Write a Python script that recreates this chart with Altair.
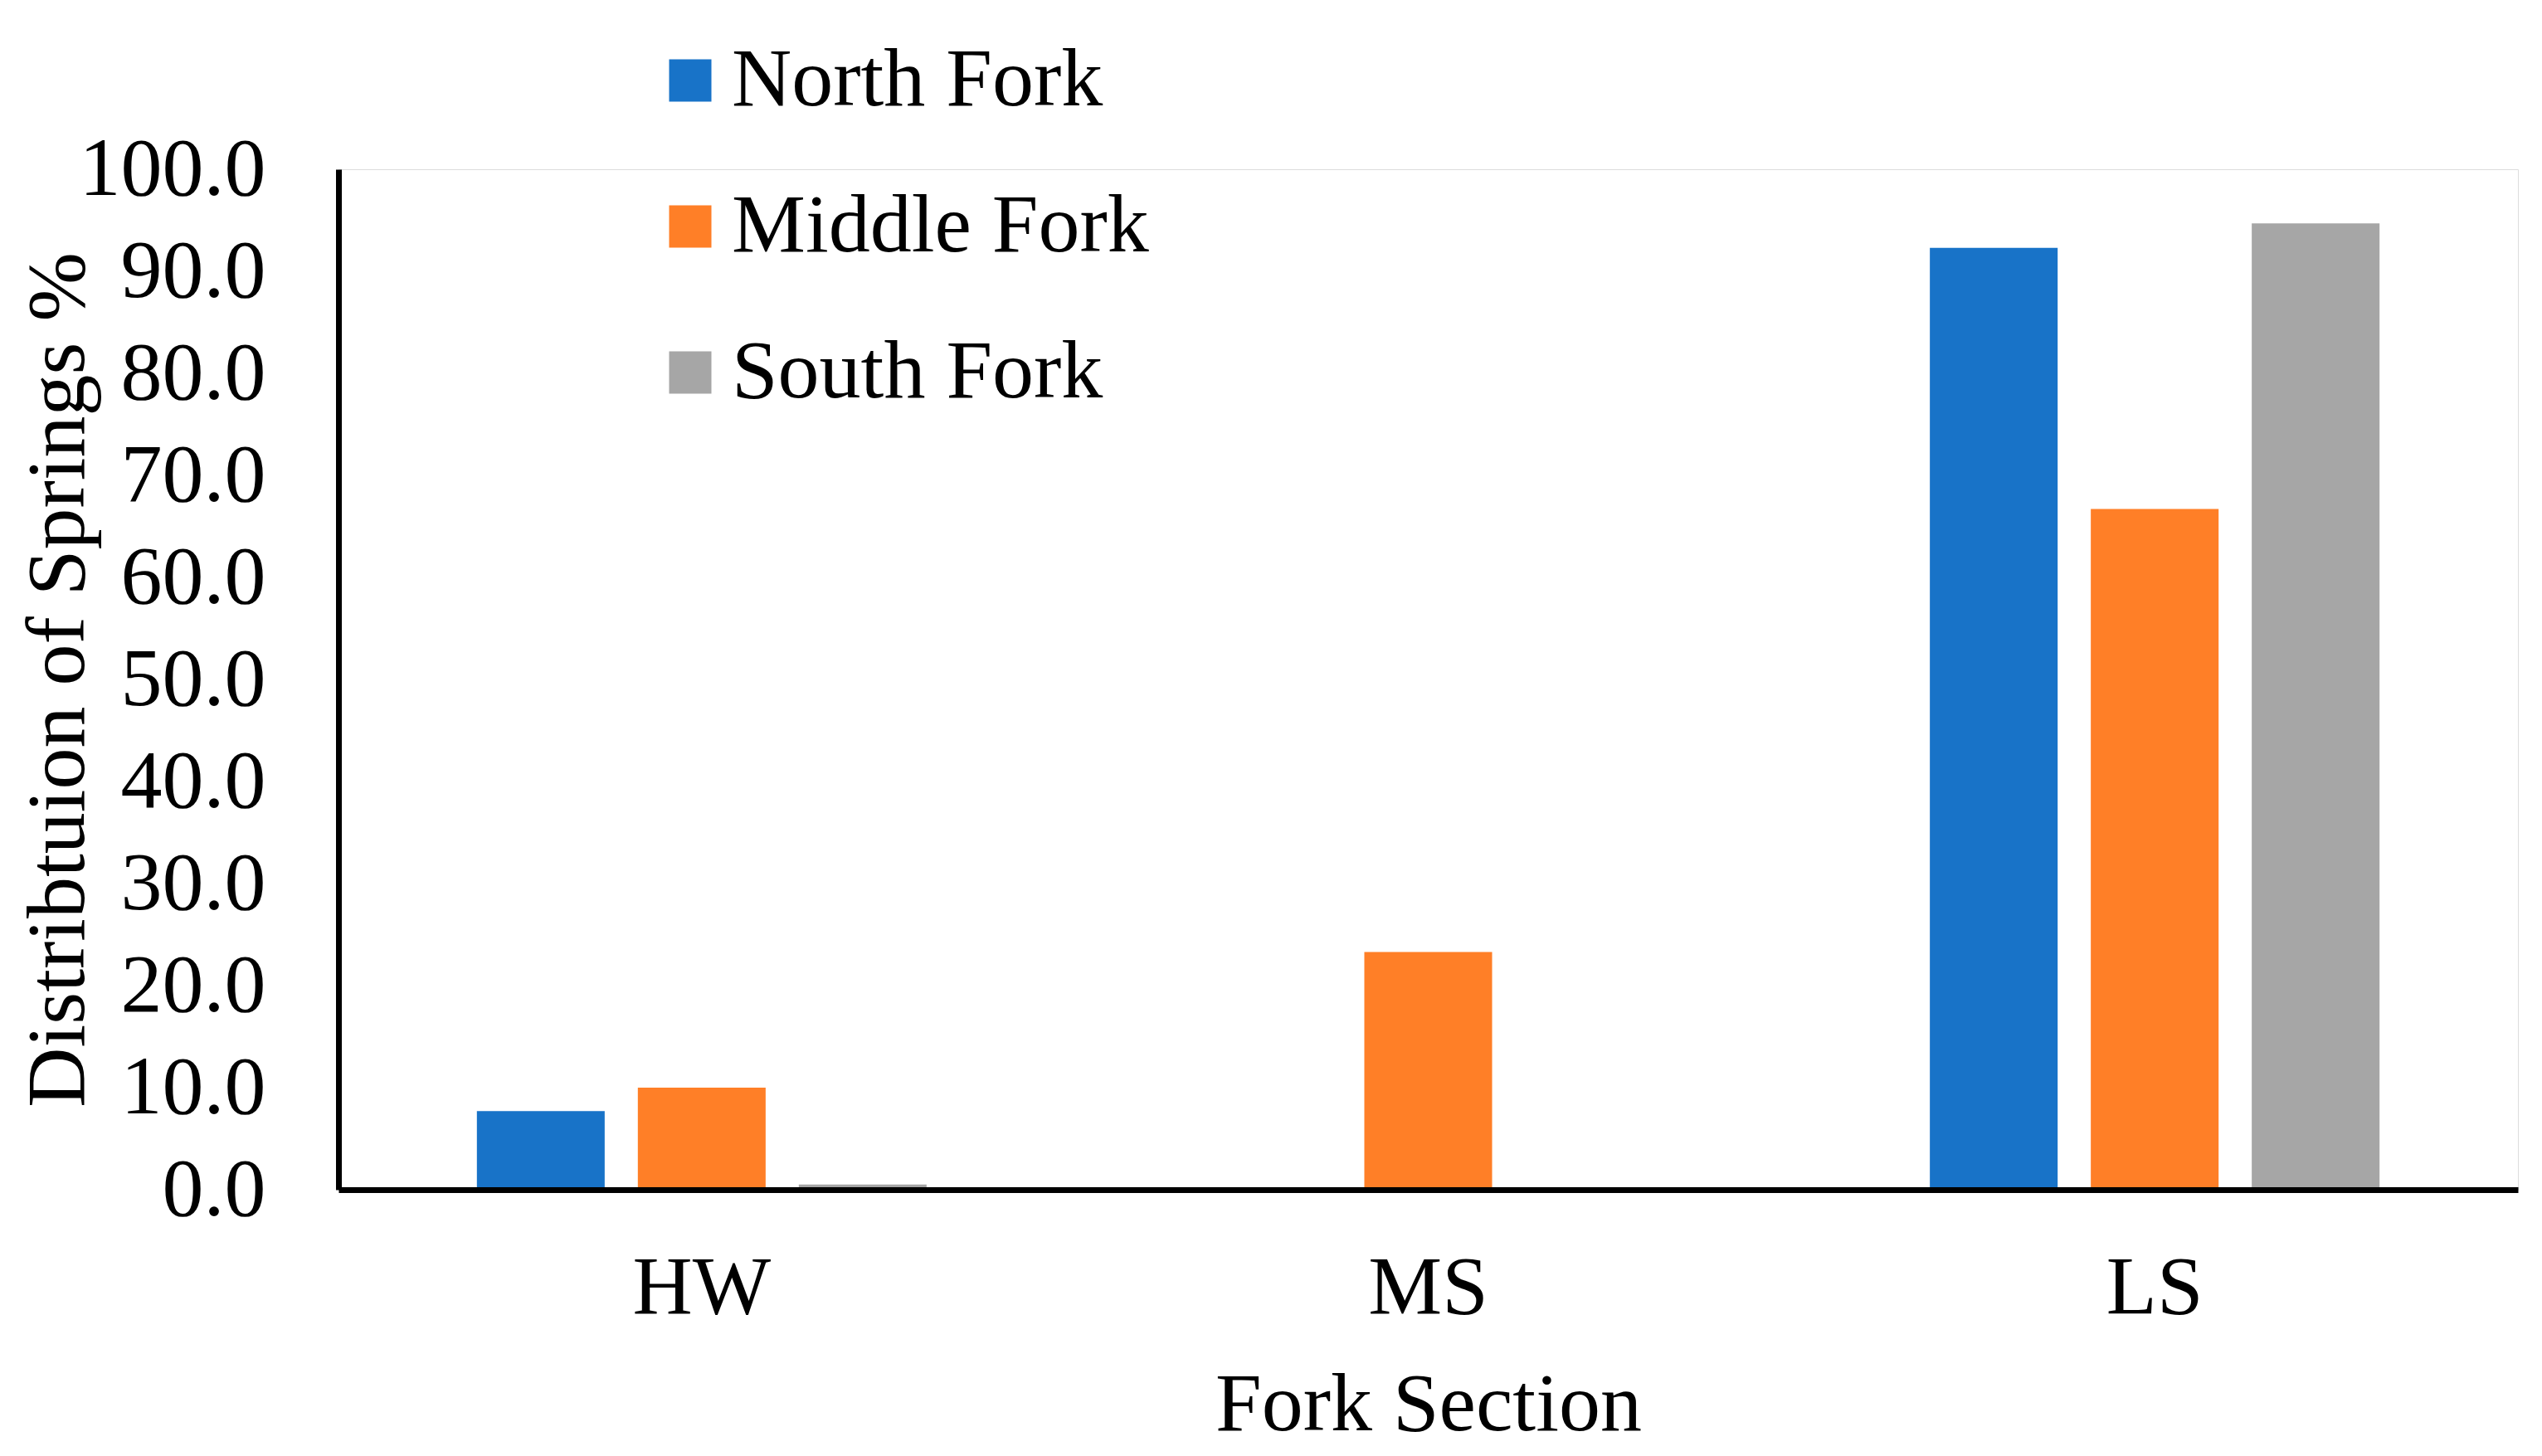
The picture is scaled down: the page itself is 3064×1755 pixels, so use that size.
import altair as alt
import pandas as pd

sections = ["HW", "MS", "LS"]
forks = ["North Fork", "Middle Fork", "South Fork"]
north_fork = [7.7, 0.0, 92.3]
middle_fork = [10.0, 23.3, 66.7]
south_fork = [0.5, 0.0, 94.7]
colors = ["#1873C8", "#FF7F27", "#A6A6A6"]
y_ticks = [0, 10, 20, 30, 40, 50, 60, 70, 80, 90, 100]

rows = []
for fork, vals in zip(forks, [north_fork, middle_fork, south_fork]):
    for sec, v in zip(sections, vals):
        rows.append({"Section": sec, "Fork": fork, "Value": v})
df = pd.DataFrame(rows)

FONT = "Liberation Serif"
W, H = 2627, 1230

chart = alt.Chart(df).mark_bar().encode(
    x=alt.X("Section:N", sort=sections,
            scale=alt.Scale(paddingInner=0.381, paddingOuter=0.1905),
            axis=alt.Axis(title="Fork Section", labelAngle=0, labelFontSize=100,
                          labelFont=FONT, labelColor="black", labelPadding=69,
                          labelLimit=2000, titleLimit=3000,
                          ticks=False, tickSize=0, domainColor="black", domainWidth=7,
                          titleFont=FONT, titleFontSize=100, titleFontWeight="normal",
                          titleColor="black", titleBaseline="alphabetic",
                          titleX=W / 2, titleY=289, titleAlign="center", zindex=1)),
    xOffset=alt.XOffset("Fork:N", sort=forks,
                        scale=alt.Scale(paddingInner=0.206, paddingOuter=0)),
    y=alt.Y("Value:Q", scale=alt.Scale(domain=[0, 100], nice=False),
            axis=alt.Axis(title="Distribtuion of Springs %", values=y_ticks, format=".1f",
                          labelFontSize=100, labelFont=FONT, labelColor="black",
                          labelPadding=88, labelLimit=2000, titleLimit=3000,
                          ticks=False, tickSize=0, grid=False,
                          domainColor="black", domainWidth=7,
                          titleFont=FONT, titleFontSize=100, titleFontWeight="normal",
                          titleColor="black", titleAngle=270, titleBaseline="alphabetic",
                          titleX=-308, titleY=H / 2, titleAlign="center", zindex=1)),
    color=alt.Color("Fork:N", sort=forks,
                    scale=alt.Scale(domain=forks, range=colors),
                    legend=alt.Legend(title=None, orient="none", legendX=374, legendY=-157,
                                      direction="vertical", symbolType="square",
                                      symbolSize=2601, symbolStrokeWidth=0,
                                      symbolOpacity=1, labelFont=FONT, labelFontSize=100,
                                      labelColor="black", labelOffset=0, rowPadding=76,
                                      padding=0, labelLimit=2000)),
).properties(
    width=W, height=H,
    autosize=alt.AutoSizeParams(type="none"),
    padding={"left": 400, "top": 196, "right": 20, "bottom": 312},
).configure_view(stroke=None).configure(background="white")

chart.save("out.html", embed_options={"renderer": "svg", "actions": False})
